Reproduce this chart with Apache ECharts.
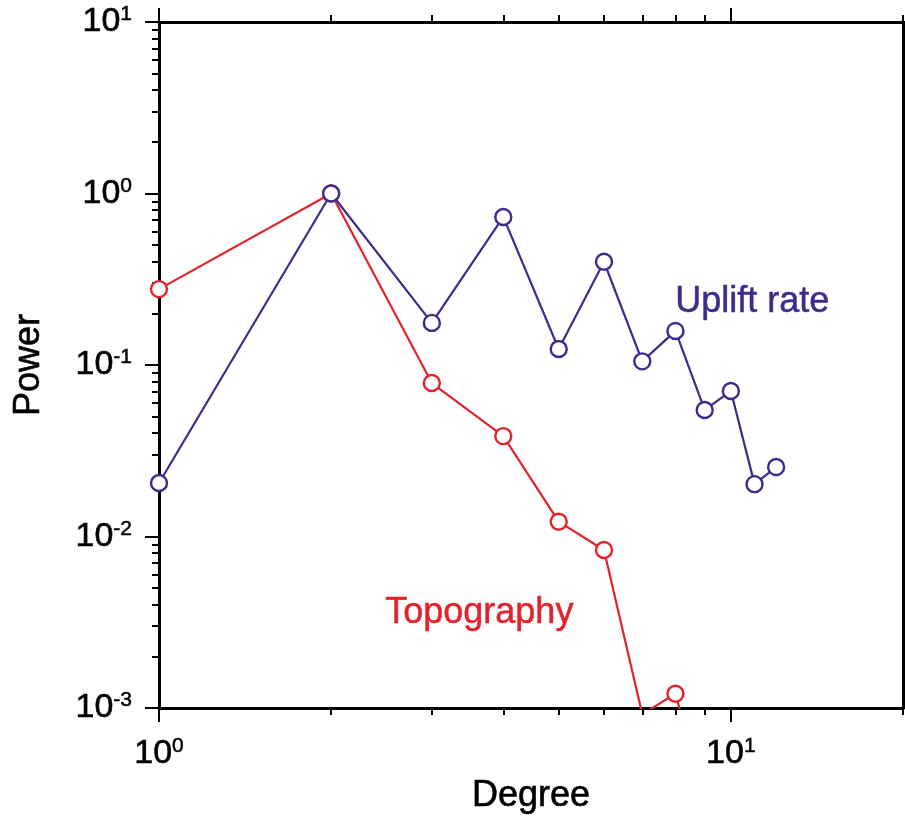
<!DOCTYPE html>
<html><head><meta charset="utf-8">
<script src="https://cdn.jsdelivr.net/npm/echarts@6/dist/echarts.min.js"></script>
<style>html,body{margin:0;padding:0;background:#fff}#c{width:905px;height:816px}</style>
</head><body><div id="c"></div>
<script>
// ---- data ----
const upliftDegrees = [1, 2, 3, 4, 5, 6, 7, 8, 9, 10, 11, 12];
const upliftPower   = [0.0205, 1.0, 0.176, 0.73, 0.124, 0.40, 0.105, 0.158, 0.0547, 0.0705, 0.0202, 0.0254];
const topoDegrees   = [1, 2, 3, 4, 5, 6, 7, 8, 9];
const topoPower     = [0.277, 1.0, 0.0785, 0.0385, 0.0122, 0.00834, 0.00092, 0.00121, 0.0003];
const xMajorTicks = [1, 10];
const xMinorTicks = [2, 3, 4, 5, 6, 7, 8, 9, 20];
const yMajorTicks = [0.001, 0.01, 0.1, 1, 10];
const yMinorTicks = [0.002,0.003,0.004,0.005,0.006,0.007,0.008,0.009,
                     0.02,0.03,0.04,0.05,0.06,0.07,0.08,0.09,
                     0.2,0.3,0.4,0.5,0.6,0.7,0.8,0.9,
                     2,3,4,5,6,7,8,9];
const xName = 'Degree';
const yName = 'Power';
const upliftLabel = 'Uplift rate';
const topoLabel = 'Topography';

const PURPLE = '#3f2b8c';
const RED = '#e3232c';
const FONT = '"Liberation Sans", Arial, Helvetica, sans-serif';

function pairs(xs, ys) { return xs.map((x, i) => [x, ys[i]]); }
function expLabel(v) {
  const e = Math.round(Math.log10(v));
  return '{b|10}{s|' + e + '}';
}
const rich = {
  b: { fontSize: 34, fontFamily: FONT, color: '#000', lineHeight: 36, textBorderColor: '#000', textBorderWidth: 0.6 },
  s: { fontSize: 21, fontFamily: FONT, color: '#000', lineHeight: 21, verticalAlign: 'top', textBorderColor: '#000', textBorderWidth: 0.5 }
};
const nameStyle = { fontSize: 36, fontFamily: FONT, color: '#000', textBorderColor: '#000', textBorderWidth: 0.6 };

function xAx(pos, major, showLine) {
  return {
    type: 'log', logBase: 10, position: pos, min: 1, max: 20,
    axisLine: { show: showLine, onZero: false, lineStyle: { color: '#000', width: 3 } },
    axisTick: { show: true, inside: false, length: major ? 14 : 7, customValues: major ? xMajorTicks : xMinorTicks,
                lineStyle: { color: '#000', width: 2 } },
    axisLabel: (major && pos === 'bottom') ? { show: true, customValues: xMajorTicks, margin: 28, fontSize: 34, fontFamily: FONT, formatter: expLabel, rich: rich }
                                           : { show: false },
    splitLine: { show: false }, minorTick: { show: false }, minorSplitLine: { show: false },
    name: (major && pos === 'bottom') ? xName : '',
    nameLocation: 'middle', nameGap: 70,
    nameTextStyle: nameStyle
  };
}
function yAx(pos, major, showLine) {
  return {
    type: 'log', logBase: 10, position: pos, min: 0.001, max: 10,
    axisLine: { show: showLine, onZero: false, lineStyle: { color: '#000', width: 3 } },
    axisTick: { show: true, inside: false, length: major ? 14 : 7, customValues: major ? yMajorTicks : yMinorTicks,
                lineStyle: { color: '#000', width: 2 } },
    axisLabel: (major && pos === 'left') ? { show: true, customValues: yMajorTicks, margin: 27, fontSize: 34, fontFamily: FONT, formatter: expLabel, rich: rich }
                                         : { show: false },
    splitLine: { show: false }, minorTick: { show: false }, minorSplitLine: { show: false },
    name: (major && pos === 'left') ? yName : '',
    nameLocation: 'middle', nameGap: 112, nameRotate: 90,
    nameTextStyle: nameStyle
  };
}

function lineSeries(name, data, color, z) {
  return {
    name: name, type: 'line', data: data, xAxisIndex: 0, yAxisIndex: 0,
    clip: true, z: z, animation: false,
    symbol: 'circle', symbolSize: 16, showSymbol: true,
    lineStyle: { color: color, width: 2.2 },
    itemStyle: { color: '#fff', borderColor: color, borderWidth: 2.4 }
  };
}

const chart = echarts.init(document.getElementById('c'), null, { renderer: 'canvas' });
chart.setOption({
  animation: false,
  backgroundColor: '#fff',
  grid: { left: 159, right: 2, top: 22, bottom: 108, containLabel: false, outerBoundsMode: 'none' },
  xAxis: [xAx('bottom', true, true), xAx('bottom', false, false), xAx('top', true, true), xAx('top', false, false)],
  yAxis: [yAx('left', true, true), yAx('left', false, false), yAx('right', true, true), yAx('right', false, false)],
  series: [
    lineSeries(topoLabel, pairs(topoDegrees, topoPower), RED, 2),
    lineSeries(upliftLabel, pairs(upliftDegrees, upliftPower), PURPLE, 3)
  ],
  graphic: [
    { type: 'text', left: 675, top: 284, style: { text: upliftLabel, fill: PURPLE, font: '36px ' + FONT, stroke: PURPLE, lineWidth: 0.5 } },
    { type: 'text', left: 385, top: 595, style: { text: topoLabel, fill: RED, font: '36px ' + FONT, stroke: RED, lineWidth: 0.5 } }
  ]
});
</script></body></html>
